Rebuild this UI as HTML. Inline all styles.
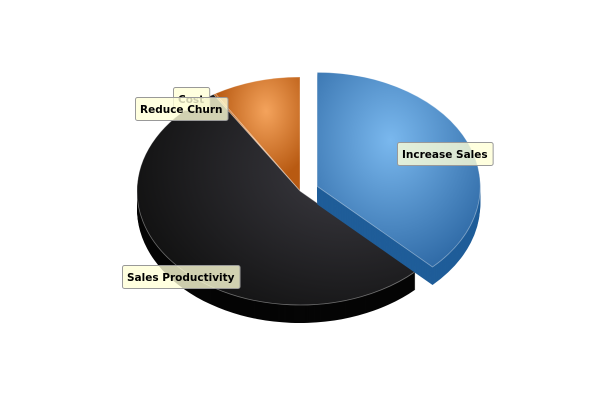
<!DOCTYPE html>
<html><head><meta charset="utf-8"><style>
body{margin:0;background:#fff;width:600px;height:400px;overflow:hidden;font-family:"Liberation Sans",sans-serif}
</style></head><body>
<svg id="chart" width="600" height="400" xmlns="http://www.w3.org/2000/svg">
<defs>
<radialGradient id="g-blue" cx="0.45" cy="0.35" r="0.7"><stop offset="0" stop-color="#7ab8ee"/><stop offset="1" stop-color="#2f6aa6"/></radialGradient>
<radialGradient id="g-black" cx="0.75" cy="0.35" r="0.8"><stop offset="0" stop-color="#3c3b42"/><stop offset="1" stop-color="#111"/></radialGradient>
<radialGradient id="g-orange" cx="0.6" cy="0.3" r="0.6"><stop offset="0" stop-color="#f4a35c"/><stop offset="1" stop-color="#b85a12"/></radialGradient>
<radialGradient id="g-churn" cx="0.5" cy="0.5" r="0.6"><stop offset="0" stop-color="#f4a35c"/><stop offset="1" stop-color="#b85a12"/></radialGradient>
</defs>
<g id="slices"></g><g id="labels"></g>
</svg>
<script>
const categories=["Increase Sales","Sales Productivity","Reduce Churn","Cost"];
const values=[37.5,53.6,0.2,8.7];
const exploded=[true,false,false,false];
const fills=["url(#g-blue)","url(#g-black)","url(#g-churn)","url(#g-orange)"];
const sideFills=["#1f5d99","#050505","#9a4a0c","#9a4a0c"];
const labelPos=[[397,142],[122,265],[135,97],[173,87]];
const NS="http://www.w3.org/2000/svg";
const cx=300,cy=191,rx=163,ry=114,depth=18,explode=22;
const total=values.reduce((a,b)=>a+b,0);
function pt(a,ox,oy,dy){return [ox+rx*Math.sin(a),oy-ry*Math.cos(a)+dy];}
function wedge(a0,a1,ox,oy,dy){
 const p0=pt(a0,ox,oy,dy),p1=pt(a1,ox,oy,dy);
 const large=(a1-a0)>Math.PI?1:0;
 return `M${ox},${oy+dy}L${p0[0]},${p0[1]}A${rx},${ry} 0 ${large} 1 ${p1[0]},${p1[1]}Z`;
}
const g=document.getElementById('slices');
let acc=0;const slices=[];
values.forEach((v,i)=>{const a0=acc/total*2*Math.PI;acc+=v;const a1=acc/total*2*Math.PI;
 const mid=(a0+a1)/2;let ox=cx,oy=cy;
 if(exploded[i]){ox+=explode*Math.sin(mid)*0.85;oy-=explode*Math.cos(mid)*0.55;}
 slices.push({i,a0,a1,ox,oy});});
const order=[3,2,1,0];
order.forEach(k=>{const s=slices[k];
 const grp=document.createElementNS(NS,'g');
 
 
 for(let d=depth;d>=1;d--){const p=document.createElementNS(NS,'path');
  p.setAttribute('d',wedge(s.a0,s.a1,s.ox,s.oy,d));p.setAttribute('fill',sideFills[k]);grp.appendChild(p);}
 const t=document.createElementNS(NS,'path');
 t.setAttribute('d',wedge(s.a0,s.a1,s.ox,s.oy,0));t.setAttribute('fill',fills[k]);
 t.setAttribute('stroke','#fff');t.setAttribute('stroke-opacity','0.4');t.setAttribute('stroke-width','0.8');
 grp.appendChild(t);g.appendChild(grp);});
const lg=document.getElementById('labels');
[1,0,3,2].forEach(k=>{const [x,y]=labelPos[k];
 const grp=document.createElementNS(NS,'g');
 
 
 const r=document.createElementNS(NS,'rect');
 const t=document.createElementNS(NS,'text');
 t.setAttribute('x',x+5);t.setAttribute('y',y+16);t.setAttribute('font-size','10.5');t.setAttribute('font-weight','bold');
 t.setAttribute('font-family','"DejaVu Sans", sans-serif');t.setAttribute('fill','#000');
 t.textContent=categories[k];
 grp.appendChild(r);grp.appendChild(t);lg.appendChild(grp);
 const w=t.getComputedTextLength()+10;
 r.setAttribute('x',x+0.5);r.setAttribute('y',y+0.5);r.setAttribute('width',w);r.setAttribute('height',23);
 r.setAttribute('rx',2);r.setAttribute('fill','rgba(255,255,215,0.8)');r.setAttribute('stroke','#999');});
</script>
</body></html>
